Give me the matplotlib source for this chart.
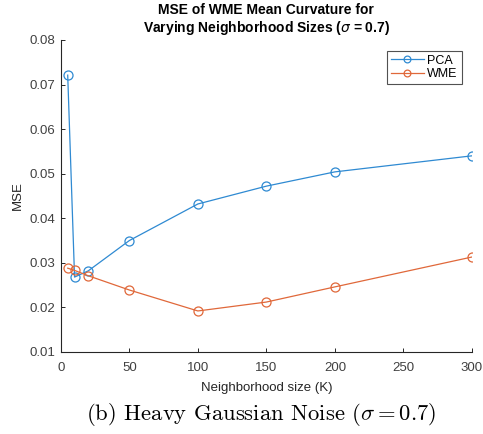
import matplotlib
matplotlib.use("Agg")
import matplotlib.pyplot as plt

K = [5, 10, 20, 50, 100, 150, 200, 300]
pca = [0.0721, 0.0268, 0.0282, 0.0350, 0.0432, 0.0472, 0.0504, 0.0540]
wme = [0.0288, 0.0283, 0.0271, 0.0239, 0.0192, 0.0212, 0.0246, 0.0313]
xticks = [0, 50, 100, 150, 200, 250, 300]
yticks = [0.01, 0.02, 0.03, 0.04, 0.05, 0.06, 0.07, 0.08]

plt.rcParams['font.family'] = ['Liberation Sans', 'DejaVu Sans']
plt.rcParams['axes.unicode_minus'] = False
fig = plt.figure(figsize=(4.83, 4.34), dpi=100)
ax = fig.add_axes([0.126, 0.189, 0.851, 0.719])

blue = '#2f8ad2'
orange = '#e0683a'
ax.plot(K, pca, '-o', color=blue, lw=0.9, ms=6.5, mfc='none', mew=0.9, label='PCA')
ax.plot(K, wme, '-o', color=orange, lw=0.9, ms=6.5, mfc='none', mew=0.9, label='WME')

ax.set_xlim(0, 300)
ax.set_ylim(0.01, 0.08)
ax.set_xticks(xticks)
ax.set_yticks(yticks)
ax.set_xticklabels([str(v) for v in xticks])
ax.set_yticklabels([f'{v:.2f}' for v in yticks])
ax.spines['top'].set_visible(False)
ax.spines['right'].set_visible(False)
for s in ['left', 'bottom']:
    ax.spines[s].set_color('#262626')
    ax.spines[s].set_linewidth(0.8)
ax.tick_params(direction='in', length=3, width=0.7, colors='#262626', labelsize=9.5, labelcolor='#404040')
ax.tick_params(axis='x', pad=7)
ax.tick_params(axis='y', pad=4)

ax.set_xlabel('Neighborhood size (K)', fontsize=9.5, color='#262626', labelpad=6)
ax.set_ylabel('MSE', fontsize=9.5, color='#262626', labelpad=4)
ax.set_title('MSE of WME Mean Curvature for\nVarying Neighborhood Sizes ($\\sigma$ = 0.7)',
             fontsize=10, fontweight='bold', color='black', pad=6, linespacing=1.15)

leg = ax.legend(loc='upper right', fontsize=9, frameon=True, fancybox=False,
                edgecolor='#262626', borderpad=0.3, handlelength=2.6, labelspacing=0.15,
                handletextpad=0.3, markerscale=0.75, bbox_to_anchor=(0.99, 0.985))
leg.get_frame().set_linewidth(0.8)

fig.text(0.541, 0.032, r'(b) Heavy Gaussian Noise ($\sigma = 0.7$)', ha='center', va='baseline',
         fontsize=16.3, family='cmr10', math_fontfamily='cm')

fig.savefig('out.png', dpi=100, facecolor='white')
